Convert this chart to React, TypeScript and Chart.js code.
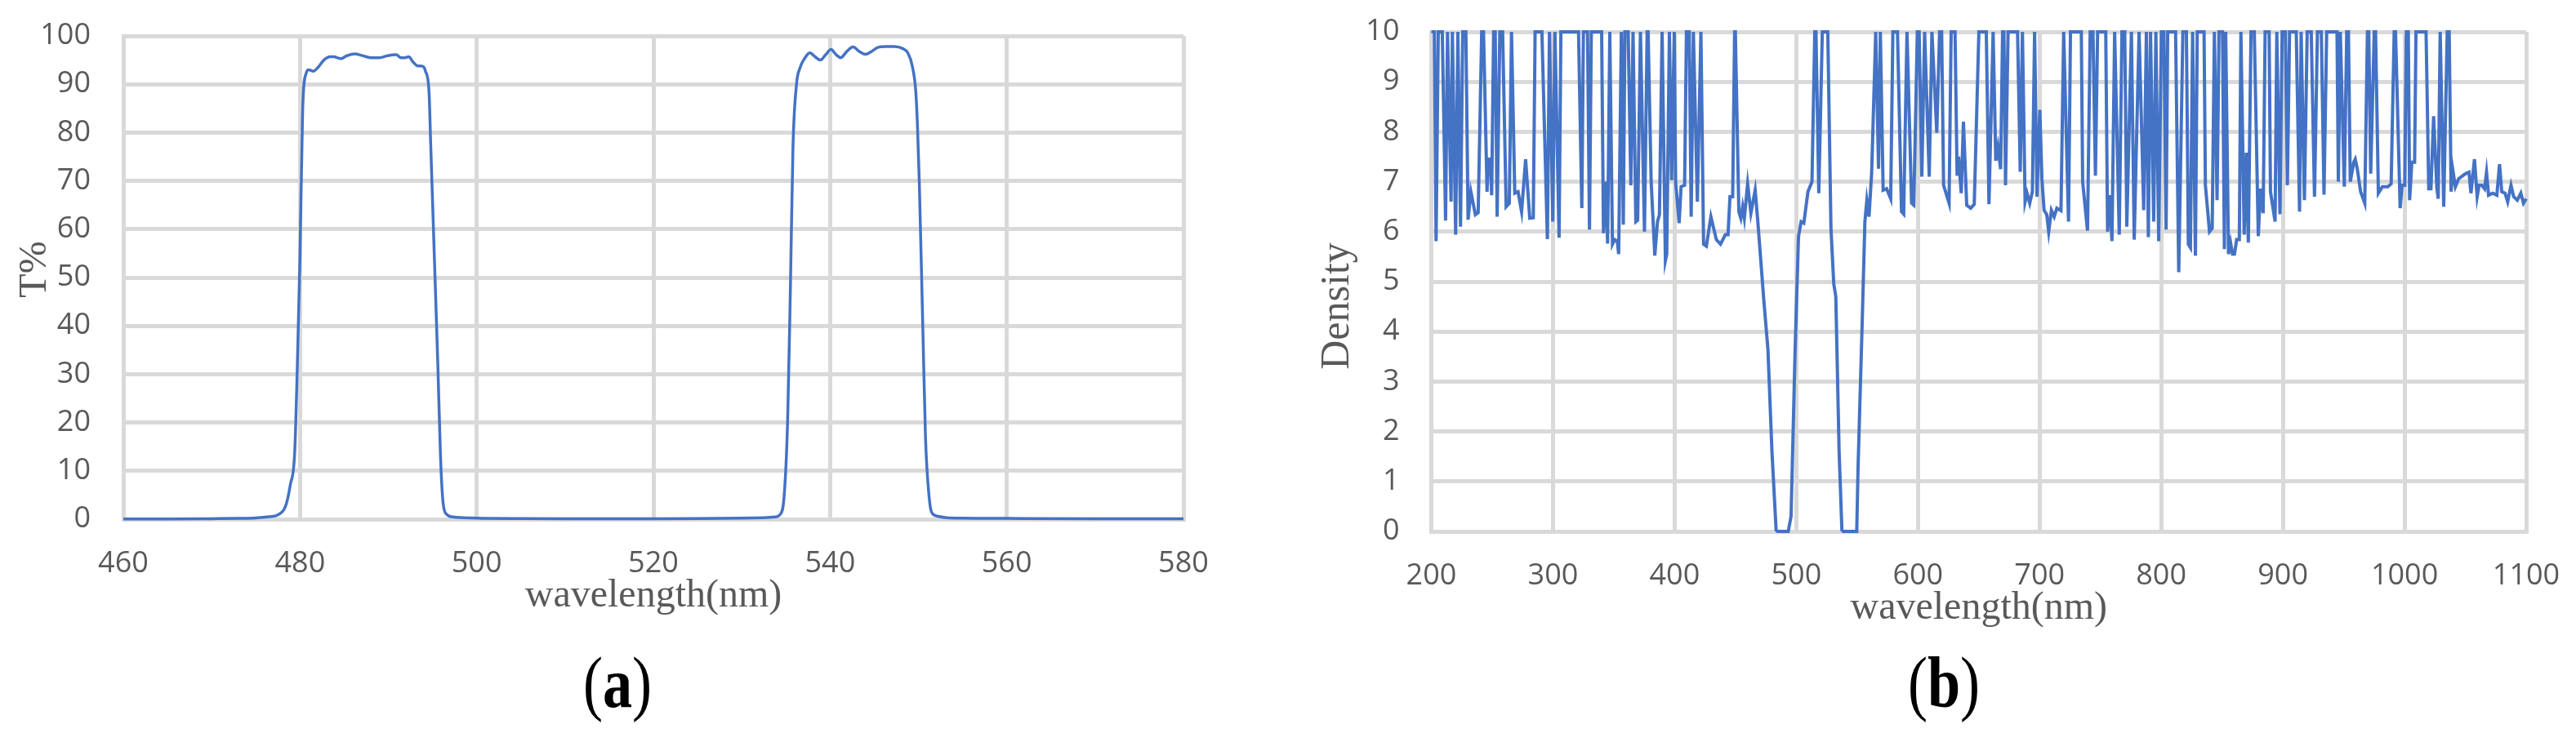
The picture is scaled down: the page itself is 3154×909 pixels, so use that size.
import React, { useEffect, useRef } from "react";
import { Chart, registerables } from "chart.js";

Chart.register(...registerables);

// ---------- Panel (a): transmittance ----------
const waveA = [
  460, 465, 470, 473, 475, 476.5, 477.5, 478.4, 478.9, 479.4,
  479.7, 480, 480.3, 480.7, 481, 481.5, 482, 482.7, 483.4, 483.8,
  484.6, 485.3, 486.2, 487.1, 488, 489, 489.9, 490.9, 491.4, 491.9,
  492.3, 492.8, 493.3, 493.9, 494.2, 494.6, 494.8, 495.2, 495.6, 495.9,
  496.2, 496.6, 497.3, 498.5, 500, 505, 510, 515, 520, 525,
  530, 532.5, 533.8, 534.3, 534.8, 535.2, 535.5, 535.8, 536.2, 536.6,
  537.1, 537.7, 538.3, 538.9, 539.5, 540.1, 540.7, 541.2, 541.9, 542.6,
  543.3, 544, 544.7, 545.4, 546.3, 547.3, 548.2, 548.8, 549.3, 549.7,
  549.9, 550.1, 550.5, 550.8, 551.2, 551.5, 552.2, 553.2, 555, 560,
  570, 580,
];
const transA = [
  0.05, 0.05, 0.1, 0.15, 0.25, 0.5, 0.9, 2.9, 7.1, 13.9,
  32, 54.6, 84.8, 92.3, 93, 92.7, 93.4, 95, 95.7, 95.7,
  95.3, 95.9, 96.3, 95.9, 95.5, 95.5, 95.9, 96.1, 95.5, 95.5,
  95.7, 94.6, 93.8, 93.7, 92.7, 88.5, 77.2, 54.6, 32, 13.1,
  3.3, 1.0, 0.45, 0.3, 0.2, 0.12, 0.1, 0.1, 0.1, 0.12,
  0.2, 0.3, 0.45, 0.9, 4.8, 20.7, 47, 77, 90, 93.4,
  95.3, 96.5, 95.7, 95, 96.1, 97.2, 96.1, 95.5, 96.8, 97.7,
  96.8, 96.2, 96.8, 97.6, 97.8, 97.8, 97.4, 96.5, 93.8, 88.5,
  81, 69.6, 39.5, 16.9, 4.8, 1.4, 0.6, 0.3, 0.2, 0.15,
  0.1, 0.1,
];
const xTicksA = [460, 480, 500, 520, 540, 560, 580];
const yTicksA = [0, 10, 20, 30, 40, 50, 60, 70, 80, 90, 100];

// ---------- Panel (b): optical density ----------
const waveB = [
  200, 202.5, 203.9, 205.7, 209, 211.7, 213.3, 216.2, 217.3, 220,
  221.8, 224, 225.8, 228.4, 230.2, 232.5, 236.2, 238.5, 241.4, 242.9,
  245.8, 246.7, 248.5, 249.6, 251.2, 252.5, 254.1, 256.3, 258.6, 261.5,
  264.1, 265.9, 268.6, 271.3, 274.2, 277.5, 280.9, 283.8, 285.3, 290.9,
  295.4, 297.1, 299.8, 301.6, 305, 306.5, 321, 323.7, 325, 328.4,
  330, 331.5, 340, 341.5, 343.3, 344.9, 346.7, 348.9, 350.7, 352.9,
  354, 356.2, 357.8, 359.1, 361.8, 364, 365.8, 368.1, 369.6, 371.9,
  375.2, 377.4, 378.2, 380.7, 383.7, 385.9, 387.5, 389.7, 392.4, 393.5,
  395.7, 397.5, 399.7, 400.8, 403.7, 405.3, 408.2, 409.7, 412, 413.6,
  415.4, 418.7, 421.6, 423.8, 426.1, 429.8, 434.3, 437.7, 441.7, 443.9,
  445.5, 447.7, 449.3, 449.9, 452.8, 454.4, 455.9, 457.3, 460, 462.7,
  466.2, 468.4, 473.3, 476.7, 480, 483.4, 484.5, 493.4, 495.7, 499,
  501.8, 504, 506.2, 509.6, 512.9, 515.2, 516.2, 518.5, 521.4, 525.9,
  528.5, 530.8, 532.5, 535.2, 537.5, 538.6, 549.7, 550.8, 554.2, 556.4,
  558, 559.8, 562, 565.3, 567.6, 569.1, 571.4, 574.3, 577.6, 579.4,
  583.2, 586.5, 588.3, 591, 594.8, 596.6, 599.5, 601, 603.2, 605.5,
  609.3, 611.5, 615.5, 617.8, 619.5, 621.1, 625.6, 627.3, 630.5, 632.2,
  633.4, 635.6, 637.4, 640.1, 643.4, 646.3, 650.1, 656.2, 658.4, 661.8,
  664, 665.8, 668, 669.6, 670.7, 672, 674.1, 681.9, 684.1, 685.9,
  688.1, 689.7, 691.9, 694.1, 695.9, 697.9, 700.2, 701.9, 703.7, 705.9,
  707.5, 709.7, 712, 714.2, 717.6, 719.8, 723.8, 725.4, 734.3, 735.4,
  739.4, 741.6, 743.9, 745.9, 747.7, 754.4, 755.9, 757.7, 759.5, 761.7,
  765.5, 767.7, 770, 771.7, 775.5, 777.8, 781.8, 785.6, 787.8, 789.4,
  791.2, 793.8, 795.6, 797.9, 800.1, 802.2, 804, 805.3, 811.8, 814.4,
  817.8, 820.7, 822.3, 824, 825.8, 828.1, 829.6, 835.2, 836.3, 839.7,
  841.9, 843.7, 845.9, 847.5, 850.4, 851.9, 853, 855.3, 857, 858.6,
  860.2, 862, 864.2, 865.5, 868.2, 870, 871.6, 873.8, 876.5, 879.8,
  881.6, 883.8, 885.4, 888.7, 889.8, 893.6, 895, 897.6, 899.4, 902.1,
  903.7, 905.5, 911, 913.7, 915, 917.7, 920, 923.3, 926, 928.4,
  931.6, 933.8, 936, 944.5, 945.6, 947.2, 950.5, 952.5, 953.9, 955.4,
  958.3, 959.5, 961.2, 963.9, 967.3, 969.5, 970.6, 972.2, 975.1, 976.2,
  978.5, 981.8, 986.3, 989, 991.5, 992.6, 996.4, 998, 1000.2, 1001.5,
  1003.1, 1004.2, 1006, 1008.3, 1009.4, 1017.7, 1019.9, 1021.7, 1023.9, 1026.6,
  1027.7, 1029.3, 1032.2, 1035.1, 1036.7, 1038.3, 1039.6, 1041.8, 1044.5, 1050.1,
  1053, 1054.6, 1057.5, 1059.7, 1061.3, 1063.5, 1065.8, 1067.4, 1069.1, 1072.5,
  1075.9, 1078.1, 1079.9, 1082.6, 1084.8, 1087.5, 1089.7, 1092.7, 1095.6, 1097.8,
  1100,
];
const densB = [
  10, 10, 5.81, 10, 10, 6.22, 10, 6.6, 10, 5.94,
  10, 6.1, 10, 10, 6.24, 6.8, 6.34, 6.38, 10, 10,
  6.8, 7.45, 7.45, 6.73, 10, 10, 6.3, 10, 10, 6.5,
  6.57, 10, 6.77, 6.8, 6.4, 7.45, 6.27, 6.28, 10, 10,
  5.85, 10, 6.2, 10, 5.88, 10, 10, 6.47, 10, 10,
  6.04, 10, 10, 5.97, 7.0, 5.76, 10, 5.75, 5.84, 5.81,
  5.55, 10, 6.14, 10, 10, 6.93, 10, 6.2, 6.23, 10,
  6.0, 10, 10, 7.0, 5.52, 6.2, 6.34, 10, 5.42, 5.55,
  10, 7.03, 10, 7.0, 6.17, 6.9, 6.93, 10, 10, 6.3,
  10, 6.6, 10, 5.75, 5.71, 6.3, 5.84, 5.75, 5.94, 5.94,
  6.7, 6.7, 10, 10, 6.4, 6.27, 6.5, 6.27, 6.96, 6.37,
  6.83, 6.2, 4.63, 3.64, 1.6, 0.03, 0, 0, 0.3, 3.6,
  5.9, 6.2, 6.17, 6.8, 7.0, 10, 10, 6.77, 10, 10,
  6.07, 4.96, 4.7, 1.6, 0.03, 0, 0, 1.3, 4.2, 6.2,
  6.63, 6.3, 7.2, 10, 7.26, 10, 6.83, 6.86, 6.66, 10,
  10, 6.4, 6.35, 10, 6.57, 6.53, 10, 10, 7.1, 10,
  7.1, 10, 7.98, 10, 10, 6.93, 6.57, 10, 10, 7.12,
  7.5, 6.77, 8.2, 6.53, 6.47, 6.55, 10, 10, 6.55, 10,
  7.42, 7.7, 7.25, 10, 10, 6.93, 10, 10, 7.2, 10,
  6.6, 6.77, 6.57, 6.8, 10, 6.7, 8.44, 7.06, 6.43, 6.34,
  6.0, 6.43, 6.3, 6.47, 6.42, 10, 6.2, 10, 10, 7.0,
  6.02, 10, 10, 7.12, 10, 10, 6.0, 6.73, 5.81, 10,
  5.94, 10, 10, 6.1, 10, 5.84, 10, 6.43, 10, 5.89,
  10, 6.2, 10, 5.81, 10, 10, 6.04, 10, 10, 5.19,
  10, 10, 5.75, 5.68, 10, 5.52, 10, 10, 6.93, 6.0,
  6.07, 10, 6.63, 10, 10, 5.65, 10, 5.55, 5.78, 5.55,
  5.55, 5.84, 5.84, 10, 5.94, 7.58, 5.78, 10, 10, 5.91,
  6.86, 6.37, 10, 10, 6.8, 6.2, 10, 6.35, 10, 10,
  6.93, 10, 10, 6.4, 10, 6.63, 10, 10, 6.7, 10,
  10, 6.74, 10, 10, 7.0, 10, 6.9, 10, 10, 7.0,
  7.39, 7.45, 7.25, 6.8, 6.57, 10, 10, 7.16, 10, 10,
  6.77, 6.9, 6.9, 6.96, 10, 10, 6.47, 6.93, 6.93, 10,
  10, 6.63, 7.39, 7.39, 10, 10, 6.86, 6.86, 8.31, 6.86,
  6.66, 10, 6.5, 10, 10, 6.8, 7.25, 6.9, 7.06, 7.16,
  7.19, 6.77, 7.45, 6.7, 6.93, 6.93, 6.86, 7.19, 6.73, 6.77,
  6.73, 7.35, 6.8, 6.77, 6.6, 6.93, 6.7, 6.63, 6.77, 6.57,
  6.66,
];
const xTicksB = [200, 300, 400, 500, 600, 700, 800, 900, 1000, 1100];
const yTicksB = [0, 1, 2, 3, 4, 5, 6, 7, 8, 9, 10];

const GRID = "#d9d9d9";
const TEXT = "#595959";
const LINE = "#4472C4";
const SERIF = "'Liberation Serif', 'Times New Roman', serif";
const SANS = "'Open Sans', 'Noto Sans', sans-serif";

// Draws the rotated y-axis title at a given x and a vertical shift from the plot centre.
const yTitlePlugin = {
  id: "yTitleShifted",
  afterDraw(chart: any, _args: any, opts: any) {
    if (!opts || !opts.text) return;
    const { ctx, chartArea } = chart;
    ctx.save();
    ctx.font = `${opts.size}px ${SERIF}`;
    ctx.fillStyle = TEXT;
    ctx.textAlign = "center";
    ctx.textBaseline = "middle";
    ctx.translate(opts.x, (chartArea.top + chartArea.bottom) / 2 + opts.shift);
    ctx.rotate(-Math.PI / 2);
    ctx.fillText(opts.text, 0, 0);
    ctx.restore();
  },
};

type PanelProps = {
  wave: number[];
  values: number[];
  xTicks: number[];
  yTicks: number[];
  yTitle: string;
  yTitleSize: number;
  yTitleX: number;
  yTitleShift: number;
  smooth: boolean;
  lineWidth: number;
  left: number;
  width: number;
  height: number;
  pad: { left: number; right: number; top: number; bottom: number };
  yAxisWidth: number;
  xAxisHeight: number;
  yTickGap: number;
  xTickGap: number;
  xTitlePad: number;
};

function Panel(p: PanelProps) {
  const ref = useRef<HTMLCanvasElement | null>(null);
  useEffect(() => {
    if (!ref.current) return;
    const pts = p.wave.map((x, i) => ({ x, y: p.values[i] }));
    const chart = new Chart(ref.current, {
      type: "line",
      data: {
        datasets: [
          {
            data: pts,
            borderColor: LINE,
            borderWidth: p.lineWidth,
            pointRadius: 0,
            fill: false,
            tension: 0,
            cubicInterpolationMode: p.smooth ? "monotone" : "default",
            clip: 8,
          } as any,
        ],
      },
      plugins: [yTitlePlugin as any],
      options: {
        responsive: false,
        animation: false,
        devicePixelRatio: 1,
        layout: { padding: p.pad, autoPadding: false },
        plugins: {
          legend: { display: false },
          tooltip: { enabled: false },
          title: { display: false },
          yTitleShifted: {
            text: p.yTitle,
            size: p.yTitleSize,
            x: p.yTitleX,
            shift: p.yTitleShift,
          },
        },
        scales: {
          x: {
            type: "linear",
            min: p.xTicks[0],
            max: p.xTicks[p.xTicks.length - 1],
            grid: {
              color: GRID,
              lineWidth: 5,
              drawTicks: true,
              tickLength: p.xTickGap,
              tickColor: "rgba(0,0,0,0)",
            },
            border: { color: GRID, width: 5 },
            ticks: {
              stepSize: p.xTicks[1] - p.xTicks[0],
              autoSkip: false,
              maxRotation: 0,
              padding: 0,
              color: TEXT,
              font: { family: SANS, size: 36 },
              callback: (v: any) => String(v),
            },
            title: {
              display: true,
              text: "wavelength(nm)",
              color: TEXT,
              font: { family: SERIF, size: 48 },
              padding: { top: 0, bottom: p.xTitlePad },
            },
            afterFit: (s: any) => {
              s.height = p.xAxisHeight;
            },
          },
          y: {
            type: "linear",
            min: p.yTicks[0],
            max: p.yTicks[p.yTicks.length - 1],
            grid: {
              color: GRID,
              lineWidth: 5,
              drawTicks: true,
              tickLength: p.yTickGap,
              tickColor: "rgba(0,0,0,0)",
            },
            border: { color: GRID, width: 5 },
            ticks: {
              stepSize: p.yTicks[1] - p.yTicks[0],
              autoSkip: false,
              padding: 0,
              color: TEXT,
              font: { family: SANS, size: 36 },
              callback: (v: any) => String(v),
            },
            title: { display: false },
            afterFit: (s: any) => {
              s.width = p.yAxisWidth;
            },
          },
        },
      } as any,
    });
    return () => chart.destroy();
  }, []);
  return (
    <canvas
      ref={ref}
      width={p.width}
      height={p.height}
      style={{ position: "absolute", left: p.left, top: 0, display: "block" }}
    />
  );
}

const captionStyle: React.CSSProperties = {
  position: "absolute",
  top: 793,
  fontFamily: SERIF,
  fontSize: 88,
  lineHeight: 1,
  color: "#000",
  whiteSpace: "nowrap",
};

function Caption({ letter, center }: { letter: string; center: number }) {
  return (
    <div
      style={{
        ...captionStyle,
        left: center,
        transform: "translateX(-50%) scaleX(0.82)",
      }}
    >
      (<b>{letter}</b>)
    </div>
  );
}

export default function App() {
  return (
    <div
      style={{
        position: "absolute",
        left: 0,
        top: 0,
        width: 3154,
        height: 909,
        background: "#fff",
        overflow: "hidden",
      }}
    >
      <Panel
        wave={waveA}
        values={transA}
        xTicks={xTicksA}
        yTicks={yTicksA}
        yTitle="T%"
        yTitleSize={48}
        yTitleX={43}
        yTitleShift={-10}
        smooth={true}
        lineWidth={3.5}
        left={0}
        width={1577}
        height={780}
        pad={{ left: 0, right: 128, top: 44, bottom: 14 }}
        yAxisWidth={151}
        xAxisHeight={130}
        yTickGap={40}
        xTickGap={33}
        xTitlePad={7}
      />
      <Panel
        wave={waveB}
        values={densB}
        xTicks={xTicksB}
        yTicks={yTicksB}
        yTitle="Density"
        yTitleSize={50}
        yTitleX={61}
        yTitleShift={30}
        smooth={false}
        lineWidth={4}
        left={1577}
        width={1577}
        height={795}
        pad={{ left: 0, right: 61, top: 39, bottom: 14 }}
        yAxisWidth={175.5}
        xAxisHeight={130}
        yTickGap={39}
        xTickGap={33}
        xTitlePad={7}
      />
      <Caption letter="a" center={756} />
      <Caption letter="b" center={2380} />
    </div>
  );
}
